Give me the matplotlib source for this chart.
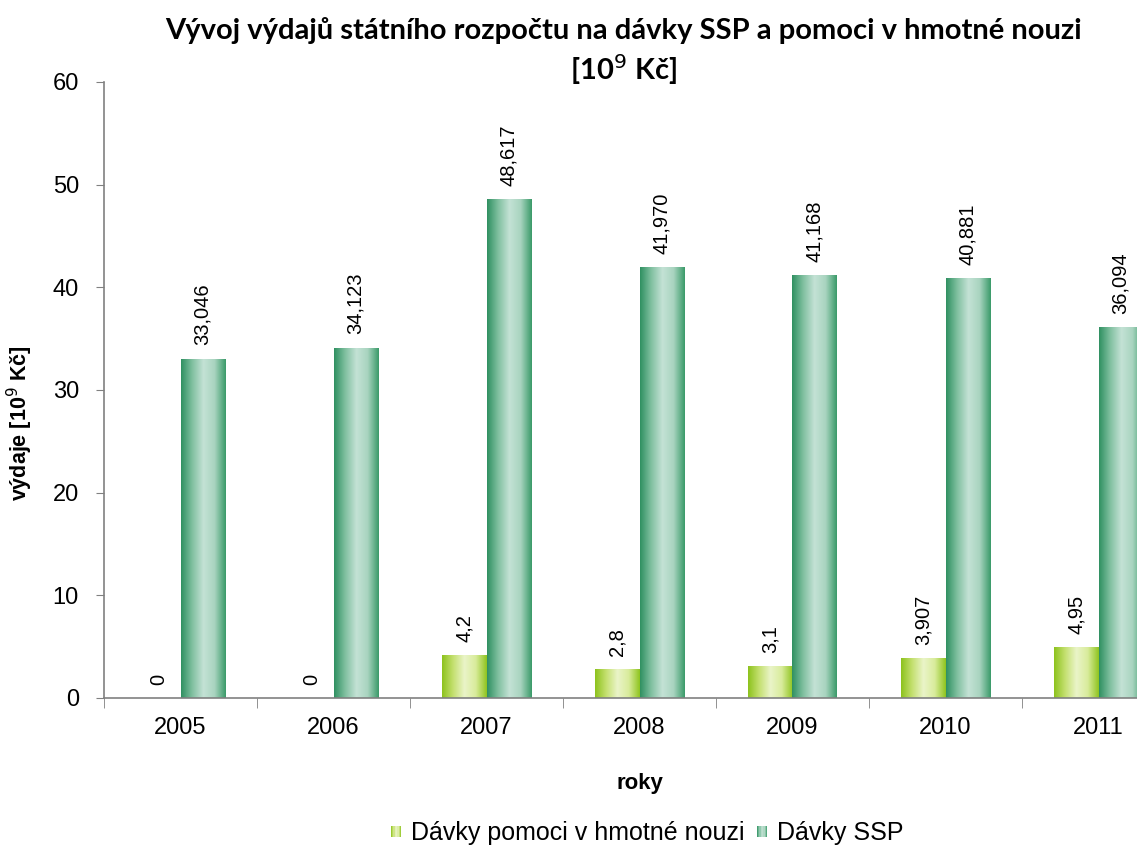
import numpy as np
import matplotlib
matplotlib.use('Agg')
import matplotlib.pyplot as plt
from matplotlib.colors import LinearSegmentedColormap
from matplotlib.patches import Rectangle
from matplotlib.legend_handler import HandlerPatch

years = ['2005', '2006', '2007', '2008', '2009', '2010', '2011']
hn_values = [0, 0, 4.2, 2.8, 3.1, 3.907, 4.95]
ssp_values = [33.046, 34.123, 48.617, 41.970, 41.168, 40.881, 36.094]
hn_labels = ['0', '0', '4,2', '2,8', '3,1', '3,907', '4,95']
ssp_labels = ['33,046', '34,123', '48,617', '41,970', '41,168', '40,881', '36,094']
series_names = ['Dávky pomoci v hmotné nouzi', 'Dávky SSP']

light_cmap = LinearSegmentedColormap.from_list(
    'light', ['#8cc21c', '#c4e070', '#eaf4c8', '#d9ec9c', '#8fc41f'])
dark_cmap = LinearSegmentedColormap.from_list(
    'dark', ['#2f9061', '#80c0a0', '#c4e2d5', '#a8d4bf', '#3a9a69'])

W, H = 1137, 849
fig = plt.figure(figsize=(W / 100, H / 100), dpi=100)
ax = fig.add_axes([104 / W, (H - 698) / H, 1071 / W, 616 / H])

grad = np.linspace(0, 1, 256).reshape(1, -1)
x = np.arange(len(years))
bw = 0.29


def gradient_bars(xs, vals, cmap):
    bars = ax.bar(xs, vals, bw, color='none', edgecolor='none', zorder=2)
    for b in bars:
        if b.get_height() <= 0:
            continue
        im = ax.imshow(grad, cmap=cmap, aspect='auto', zorder=2,
                       extent=[b.get_x(), b.get_x() + b.get_width(), 0, b.get_height()])
        im.set_clip_path(b)
    return bars


gradient_bars(x - bw / 2, hn_values, light_cmap)
gradient_bars(x + bw / 2, ssp_values, dark_cmap)

for xi, v, lab in zip(x - bw / 2, hn_values, hn_labels):
    ax.text(xi, v + 1.3, lab, rotation=90, ha='center', va='bottom',
            fontsize=14.5, family='Liberation Sans')
for xi, v, lab in zip(x + bw / 2, ssp_values, ssp_labels):
    ax.text(xi, v + 1.3, lab, rotation=90, ha='center', va='bottom',
            fontsize=14.5, family='Liberation Sans')

ax.set_xlim(-0.5, 6.5)
ax.set_ylim(0, 60)
ax.set_yticks(range(0, 61, 10))
ax.set_xticks(x)
ax.set_xticklabels(years)
ax.set_xticks(np.arange(-0.5, 7, 1), minor=True)
ax.tick_params(axis='x', which='major', length=0, pad=14, labelsize=17)
ax.tick_params(axis='x', which='minor', length=7, direction='out', color='#808080')
ax.tick_params(axis='y', length=6, direction='out', color='#808080', labelsize=17, pad=12)
for lab in ax.get_xticklabels() + ax.get_yticklabels():
    lab.set_family('Liberation Sans')
for s in ['top', 'right']:
    ax.spines[s].set_visible(False)
for s in ['left', 'bottom']:
    ax.spines[s].set_color('#808080')
    ax.spines[s].set_linewidth(1.2)

ax.set_ylabel('výdaje [10$^9$ Kč]', fontsize=15.5, fontweight='bold',
              family='Liberation Sans')
ax.yaxis.set_label_coords(-69 / 1071, (698 - 423) / 616)
fig.text(640 / W, 1 - 783 / H, 'roky', ha='center', va='center',
         fontsize=16, fontweight='bold', family='Liberation Sans')
fig.text(623 / W, 1 - 30 / H, 'Vývoj výdajů státního rozpočtu na dávky SSP a pomoci v hmotné nouzi',
         ha='center', va='center', fontsize=21, fontweight='bold', family='Lato')
fig.text(623 / W, 1 - 70 / H, '[10$^9$ Kč]', ha='center', va='center',
         fontsize=21, fontweight='bold', family='Lato')


class GradHandler(HandlerPatch):
    def __init__(self, cmap):
        super().__init__()
        self.cmap = cmap

    def create_artists(self, legend, orig, xd, yd, width, height, fontsize, trans):
        size = min(width, height) * 0.7
        x0 = xd + (width - size) / 2
        y0 = yd + (height - size) / 2
        n = 8
        arts = []
        for i in range(n):
            c = self.cmap((i + 0.5) / n)
            r = Rectangle((x0 + i * size / n, y0), size / n, size,
                          facecolor=c, edgecolor='none', transform=trans)
            arts.append(r)
        return arts


h1 = Rectangle((0, 0), 1, 1)
h2 = Rectangle((0, 0), 1, 1)
fig.legend([h1, h2], series_names, loc='center', bbox_to_anchor=(646 / W, 1 - 833 / H),
           ncol=2, frameon=False, prop={'family': 'Liberation Sans', 'size': 18},
           handler_map={h1: GradHandler(light_cmap), h2: GradHandler(dark_cmap)},
           handlelength=0.6, handletextpad=0.3, columnspacing=0.4)

fig.savefig('out.png', dpi=100)
